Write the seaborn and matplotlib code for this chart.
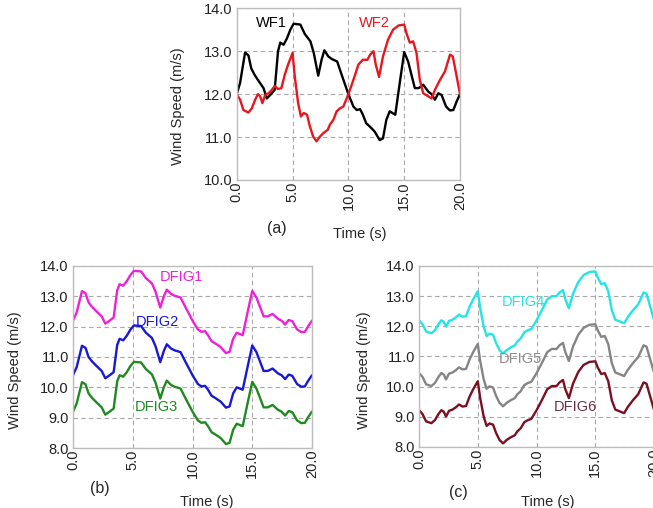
import numpy as np
import pandas as pd
import matplotlib
matplotlib.use("Agg")
import matplotlib.pyplot as plt
import seaborn as sns


# time grid for WF1 and the DFIG units following it (DFIG1-3)
t_wf1 = [0.0, 0.3, 0.75, 1.05, 1.3, 1.6, 1.9, 2.4, 2.7, 3.0, 3.4, 3.7, 3.9, 4.2, 4.5,
         4.8, 5.1, 5.7, 6.1, 6.6, 6.9, 7.3, 7.6, 7.85, 8.2, 8.5, 9.0, 9.4, 10.0, 10.45,
         10.75, 11.05, 11.3, 11.6, 11.9, 12.35, 12.8, 13.1, 13.4, 13.7, 13.95, 14.2, 14.6, 15.0, 15.35,
         15.65, 15.95, 16.3, 16.7, 17.15, 17.45, 17.75, 18.05, 18.35, 18.75, 19.1, 19.4, 19.7, 20.0]

wf1 = [12.0, 12.26, 12.97, 12.9, 12.6, 12.45, 12.33, 12.14, 11.9, 11.98, 12.1, 13.0, 13.2, 13.15, 13.3,
       13.5, 13.64, 13.62, 13.4, 13.23, 12.96, 12.43, 12.8, 13.02, 12.88, 12.82, 12.76, 12.45, 12.0, 11.71,
       11.63, 11.65, 11.52, 11.32, 11.25, 11.13, 10.93, 10.97, 11.4, 11.6, 11.56, 11.52, 12.26, 12.98, 12.76,
       12.45, 12.14, 12.14, 12.22, 12.06, 12.0, 11.87, 12.02, 11.98, 11.71, 11.62, 11.63, 11.83, 12.0]

dfig1 = [12.2, 12.46, 13.17, 13.1, 12.8, 12.65, 12.53, 12.34, 12.1, 12.18, 12.3, 13.2, 13.4, 13.35, 13.5,
         13.7, 13.84, 13.82, 13.6, 13.43, 13.16, 12.63, 13.0, 13.22, 13.08, 13.02, 12.96, 12.65, 12.2, 11.91,
         11.83, 11.85, 11.72, 11.52, 11.45, 11.33, 11.13, 11.17, 11.6, 11.8, 11.76, 11.72, 12.46, 13.18, 12.96,
         12.65, 12.34, 12.34, 12.42, 12.26, 12.2, 12.07, 12.22, 12.18, 11.91, 11.82, 11.83, 12.03, 12.2]

dfig2 = [10.4, 10.66, 11.37, 11.3, 11.0, 10.85, 10.73, 10.54, 10.3, 10.38, 10.5, 11.4, 11.6, 11.55, 11.7,
         11.9, 12.04, 12.02, 11.8, 11.63, 11.36, 10.83, 11.2, 11.42, 11.28, 11.22, 11.16, 10.85, 10.4, 10.11,
         10.03, 10.05, 9.92, 9.72, 9.65, 9.53, 9.33, 9.37, 9.8, 10.0, 9.96, 9.92, 10.66, 11.38, 11.16,
         10.85, 10.54, 10.54, 10.62, 10.46, 10.4, 10.27, 10.42, 10.38, 10.11, 10.02, 10.03, 10.23, 10.4]

dfig3 = [9.2, 9.46, 10.17, 10.1, 9.8, 9.65, 9.53, 9.34, 9.1, 9.18, 9.3, 10.2, 10.4, 10.35, 10.5,
         10.7, 10.84, 10.82, 10.6, 10.43, 10.16, 9.63, 10.0, 10.22, 10.08, 10.02, 9.96, 9.65, 9.2, 8.91,
         8.83, 8.85, 8.72, 8.52, 8.45, 8.33, 8.13, 8.17, 8.6, 8.8, 8.76, 8.72, 9.46, 10.18, 9.96,
         9.65, 9.34, 9.34, 9.42, 9.26, 9.2, 9.07, 9.22, 9.18, 8.91, 8.82, 8.83, 9.03, 9.2]

# time grid for WF2 and DFIG4-6
t_wf2 = [0.0, 0.3, 0.6, 1.05, 1.35, 1.65, 1.9, 2.1, 2.3, 2.55, 2.85, 3.15, 3.4, 3.7, 4.0, 4.3,
         4.6, 5.0, 5.2, 5.5, 5.75, 6.0, 6.3, 6.55, 6.85, 7.15, 7.45, 7.75, 8.15, 8.35, 8.65, 8.95,
         9.25, 9.55, 10.0, 10.3, 10.6, 10.9, 11.3, 11.7, 11.95, 12.25, 12.45, 12.75, 13.1, 13.55, 14.0,
         14.5, 15.0, 15.2, 15.5, 15.8, 16.1, 16.4, 16.7, 17.15, 17.45, 17.75, 18.2, 18.65, 19.1, 19.35, 19.7, 20.0]

wf2 = [12.0, 11.87, 11.63, 11.57, 11.67, 11.87, 12.0, 11.95, 11.79, 11.98, 12.02, 12.1, 12.19, 12.12, 12.14, 12.45,
       12.69, 12.96, 12.41, 11.79, 11.48, 11.56, 11.52, 11.25, 11.01, 10.9, 11.01, 11.09, 11.17, 11.29, 11.4, 11.6,
       11.67, 11.71, 12.0, 12.22, 12.45, 12.69, 12.8, 12.8, 12.92, 13.0, 12.69, 12.4, 12.88, 13.27, 13.5,
       13.6, 13.62, 13.42, 13.2, 13.23, 12.96, 12.33, 12.02, 11.95, 11.9, 12.1, 12.33, 12.53, 12.92, 12.88, 12.41, 12.0]

dfig4 = [12.2, 12.07, 11.83, 11.77, 11.87, 12.07, 12.2, 12.15, 11.99, 12.18, 12.22, 12.3, 12.39, 12.32, 12.34, 12.65,
         12.89, 13.16, 12.61, 11.99, 11.68, 11.76, 11.72, 11.45, 11.21, 11.1, 11.21, 11.29, 11.37, 11.49, 11.6, 11.8,
         11.87, 11.91, 12.2, 12.42, 12.65, 12.89, 13.0, 13.0, 13.12, 13.2, 12.89, 12.6, 13.08, 13.47, 13.7,
         13.8, 13.82, 13.62, 13.4, 13.43, 13.16, 12.53, 12.22, 12.15, 12.1, 12.3, 12.53, 12.73, 13.12, 13.08, 12.61, 12.2]

dfig5 = [10.45, 10.32, 10.08, 10.02, 10.12, 10.32, 10.45, 10.4, 10.24, 10.43, 10.47, 10.55, 10.64, 10.57, 10.59, 10.9,
         11.14, 11.41, 10.86, 10.24, 9.93, 10.01, 9.97, 9.7, 9.46, 9.35, 9.46, 9.54, 9.62, 9.74, 9.85, 10.05,
         10.12, 10.16, 10.45, 10.67, 10.9, 11.14, 11.25, 11.25, 11.37, 11.45, 11.14, 10.85, 11.33, 11.72, 11.95,
         12.05, 12.07, 11.87, 11.65, 11.68, 11.41, 10.78, 10.47, 10.4, 10.35, 10.55, 10.78, 10.98, 11.37, 11.33, 10.86, 10.45]

dfig6 = [9.22, 9.09, 8.85, 8.79, 8.89, 9.09, 9.22, 9.17, 9.01, 9.2, 9.24, 9.32, 9.41, 9.34, 9.36, 9.67,
         9.91, 10.18, 9.63, 9.01, 8.7, 8.78, 8.74, 8.47, 8.23, 8.12, 8.23, 8.31, 8.39, 8.51, 8.62, 8.82,
         8.89, 8.93, 9.22, 9.44, 9.67, 9.91, 10.02, 10.02, 10.14, 10.22, 9.91, 9.62, 10.1, 10.49, 10.72,
         10.82, 10.84, 10.64, 10.42, 10.45, 10.18, 9.55, 9.24, 9.17, 9.12, 9.32, 9.55, 9.75, 10.14, 10.1, 9.63, 9.22]

x_ticks = [0.0, 5.0, 10.0, 15.0, 20.0]


def style_axes(ax, ylim, yticks, panel, xlab_pos, ylab_pos, tag_pos):

    ax.set_xlim(0, 20)
    ax.set_ylim(*ylim)
    ax.set_xticks(x_ticks)
    ax.set_yticks(yticks)
    ax.set_xticklabels([f"{v:.1f}" for v in x_ticks], rotation=90)
    ax.set_yticklabels([f"{v:.1f}" for v in yticks])
    ax.tick_params(length=0, pad=1, labelsize=10.5, colors="#222222")
    ax.tick_params(axis="y", length=2, width=0.8, color="#9a9a9a", pad=1)

    ax.grid(True, color="#a8a8a8", linestyle=(0, (4, 3)), linewidth=0.8)
    for s in ax.spines.values():
        s.set_color("#bdbdbd")
        s.set_linewidth(1.0)

    ax.set_xlabel("Time (s)", fontsize=10.5)
    ax.set_ylabel("Wind Speed (m/s)", fontsize=10.5)
    ax.xaxis.set_label_coords(*xlab_pos)
    ax.yaxis.set_label_coords(*ylab_pos)

    ax.text(tag_pos[0], tag_pos[1], panel, transform=ax.transAxes,
            ha="center", va="center", fontsize=11.5)


def draw_line(ax, t, y, color):
    df = pd.DataFrame({"t": t, "v": y})
    sns.lineplot(data=df, x="t", y="v", ax=ax, color=color, linewidth=1.7)


sns.set_style("white")
plt.rcParams["font.family"] = ["Liberation Sans", "DejaVu Sans"]

fig = plt.figure(figsize=(6.53, 5.08), dpi=100)

ax_a = fig.add_axes([0.3625, 0.6457, 0.342, 0.338])
ax_b = fig.add_axes([0.1118, 0.1181, 0.366, 0.3583])
ax_c = fig.add_axes([0.6417, 0.1201, 0.36, 0.3563])

# (a) wind farms
draw_line(ax_a, t_wf1, wf1, "black")
draw_line(ax_a, t_wf2, wf2, "#e8161e")
ax_a.text(3.1, 13.66, "WF1", color="black", ha="center", va="center", fontsize=10.5)
ax_a.text(12.3, 13.66, "WF2", color="#e8161e", ha="center", va="center", fontsize=10.5)
style_axes(ax_a, (10, 14), [10.0, 11.0, 12.0, 13.0, 14.0], "(a)",
           (0.552, -0.274), (-0.232, 0.43), (0.18, -0.28))

# (b) DFIG1-3
draw_line(ax_b, t_wf1, dfig1, "#f020d8")
draw_line(ax_b, t_wf1, dfig2, "#1818d8")
draw_line(ax_b, t_wf1, dfig3, "#1f8a1f")
ax_b.text(9.1, 13.65, "DFIG1", color="#f020d8", ha="center", va="center", fontsize=10.5)
ax_b.text(7.1, 12.16, "DFIG2", color="#1818d8", ha="center", va="center", fontsize=10.5)
ax_b.text(6.95, 9.36, "DFIG3", color="#1f8a1f", ha="center", va="center", fontsize=10.5)
style_axes(ax_b, (8, 14), [8.0, 9.0, 10.0, 11.0, 12.0, 13.0, 14.0], "(b)",
           (0.561, -0.258), (-0.213, 0.43), (0.113, -0.22))

# (c) DFIG4-6
draw_line(ax_c, t_wf2, dfig4, "#22e6e6")
draw_line(ax_c, t_wf2, dfig5, "#858585")
draw_line(ax_c, t_wf2, dfig6, "#7a1020")
ax_c.text(8.9, 12.79, "DFIG4", color="#22e6e6", ha="center", va="center", fontsize=10.5)
ax_c.text(8.6, 10.92, "DFIG5", color="#8c8c8c", ha="center", va="center", fontsize=10.5)
ax_c.text(13.3, 9.34, "DFIG6", color="#6a3444", ha="center", va="center", fontsize=10.5)
style_axes(ax_c, (8, 14), [8.0, 9.0, 10.0, 11.0, 12.0, 13.0, 14.0], "(c)",
           (0.549, -0.264), (-0.205, 0.425), (0.166, -0.249))

fig.savefig("out.png", dpi=100)
